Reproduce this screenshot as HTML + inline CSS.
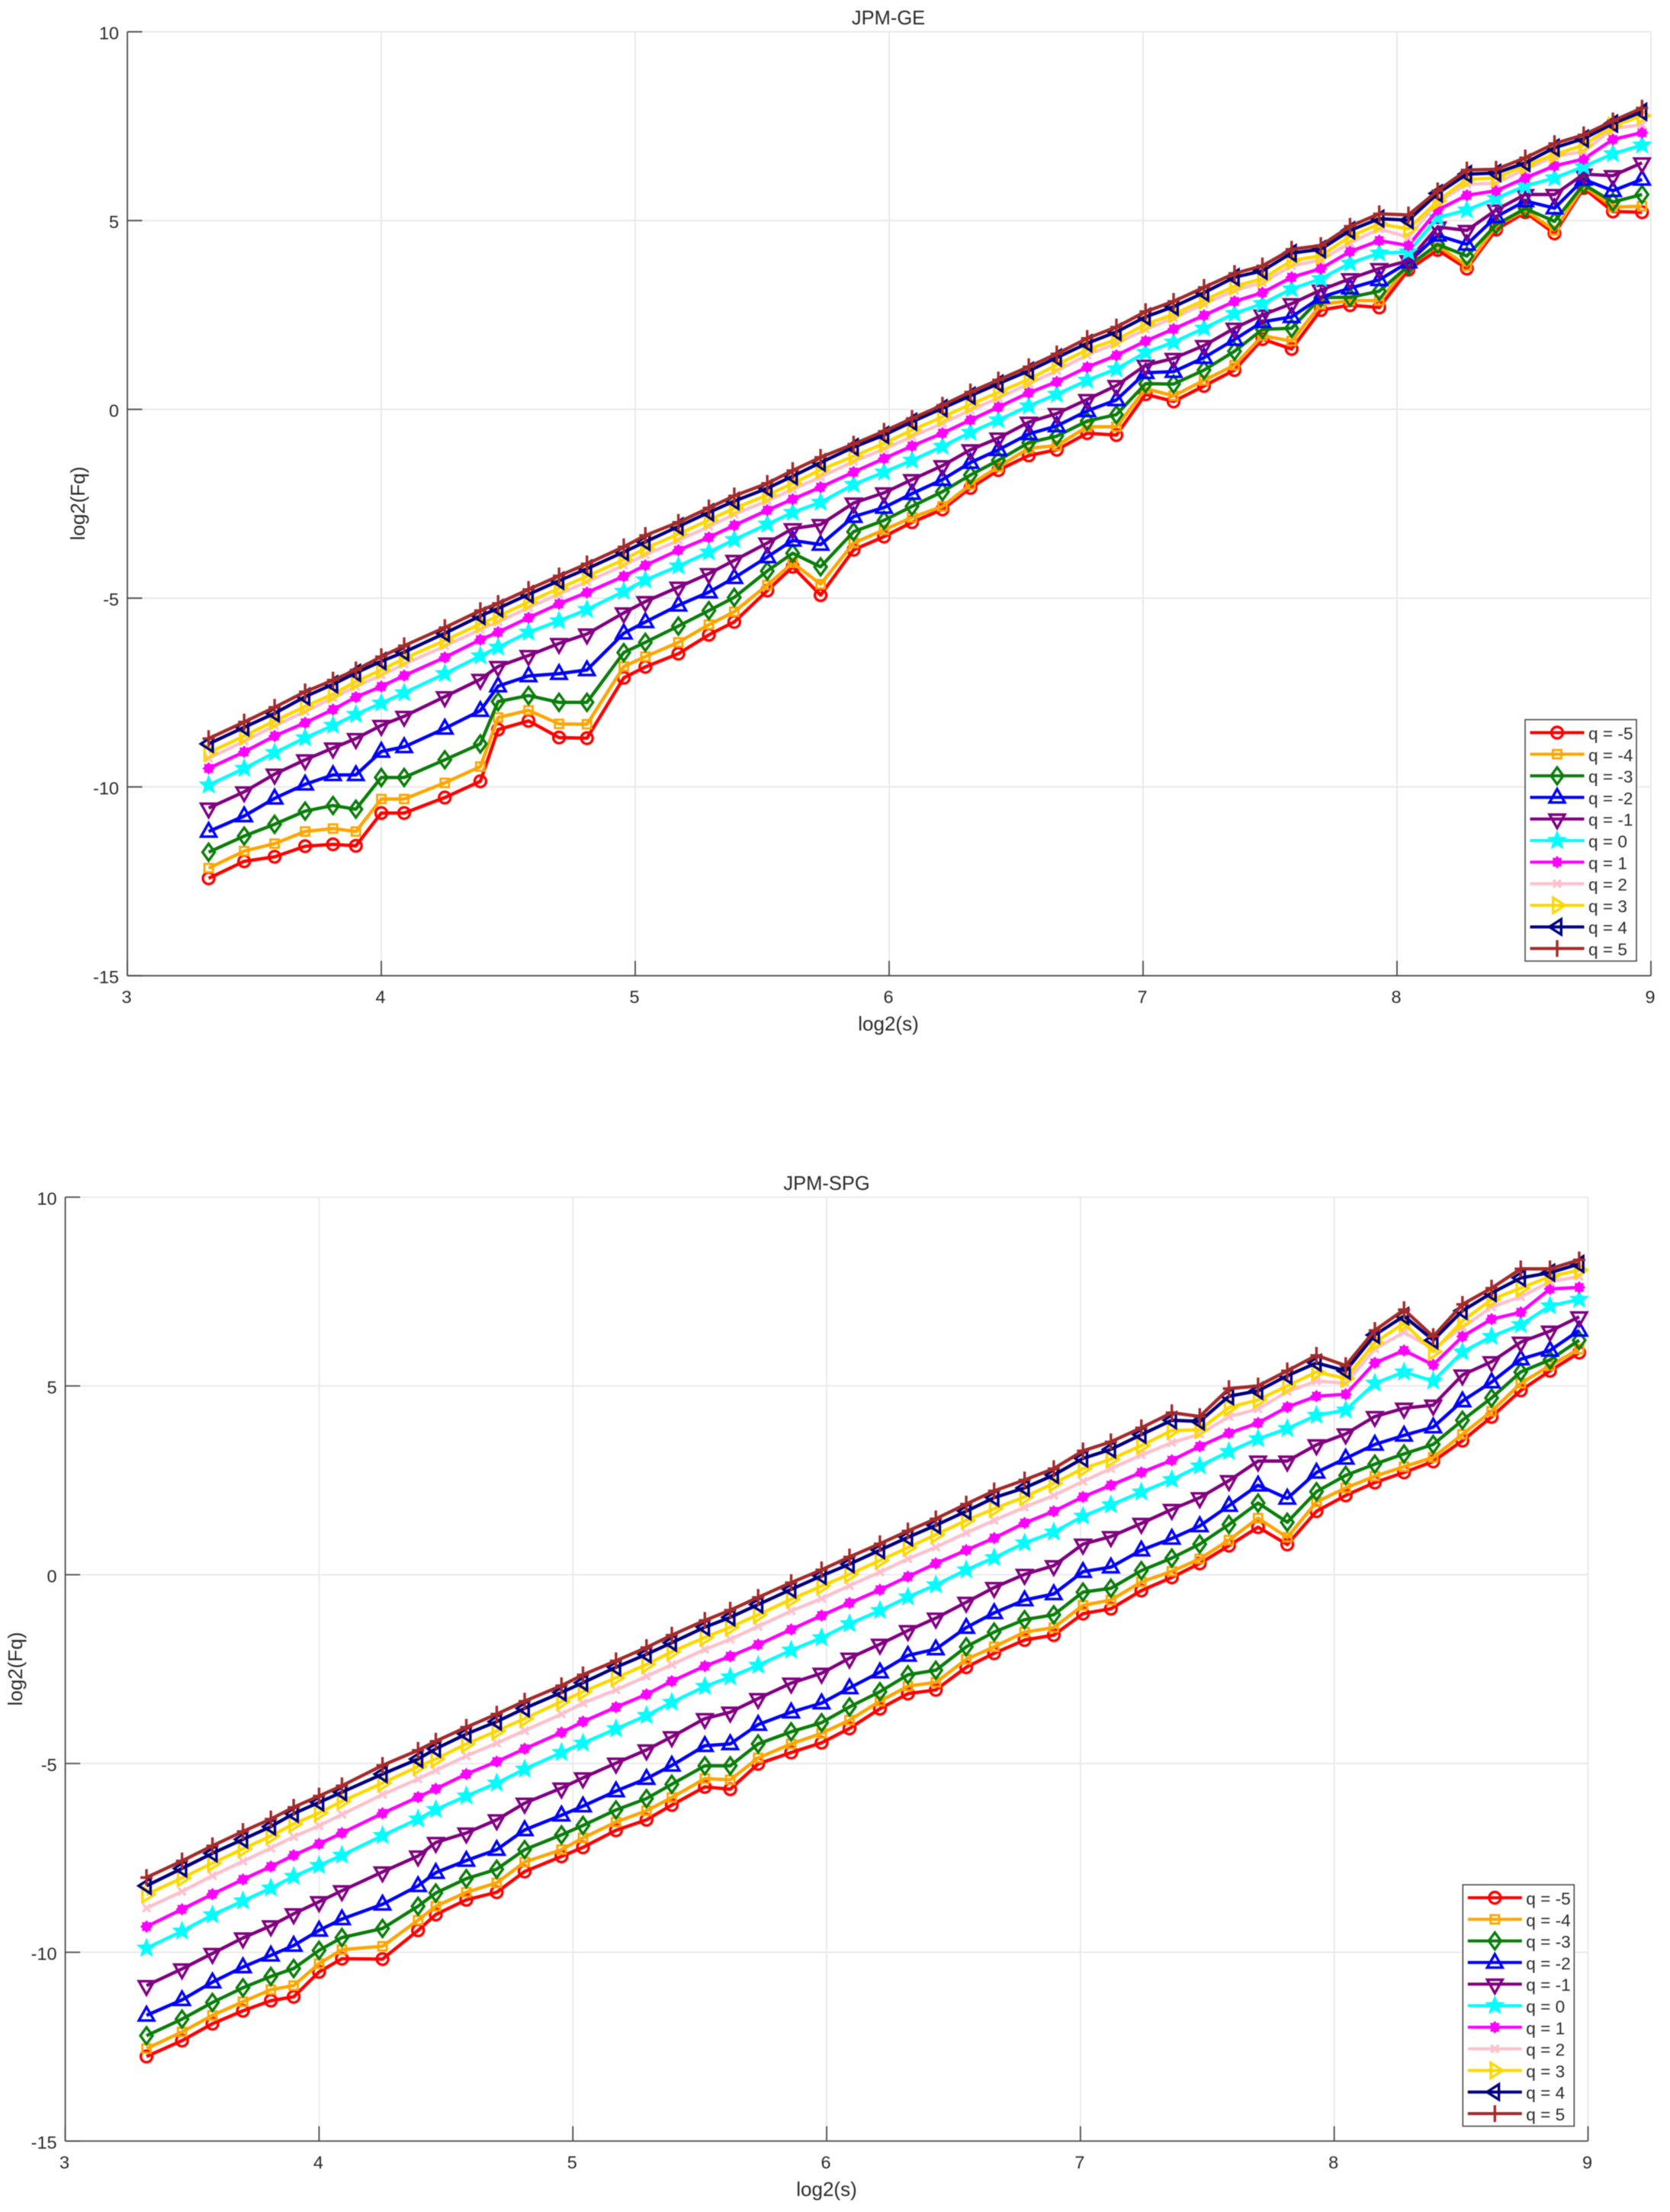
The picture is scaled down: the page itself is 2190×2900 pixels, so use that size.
<!DOCTYPE html>
<html lang="en">
<head>
<meta charset="utf-8">
<title>JPM-GE and JPM-SPG log2(Fq) vs log2(s)</title>
<style>
html,body{margin:0;padding:0;background:#fff;}
#page{position:relative;width:2190px;height:2900px;overflow:hidden;background:#fff;}
svg{display:block;filter:blur(0.5px);}
text{font-family:"Liberation Sans",Arial,sans-serif;fill:#2a2a2a;}
</style>
</head>
<body>
<div id="page">
<svg id="fig" width="2190" height="2900" viewBox="0 0 2190 2900" xmlns="http://www.w3.org/2000/svg">
  <g id="chart-ge"></g>
  <g id="chart-spg"></g>
  <text x="1165" y="32" font-size="25.5" text-anchor="middle">JPM-GE</text>
  <text x="1165" y="1351" font-size="26" text-anchor="middle">log2(s)</text>
  <text transform="translate(111 660) rotate(-90)" font-size="26" text-anchor="middle">log2(Fq)</text>
  <text x="1084" y="1560" font-size="25.5" text-anchor="middle">JPM-SPG</text>
  <text x="1084" y="2879" font-size="26" text-anchor="middle">log2(s)</text>
  <text transform="translate(29 2188) rotate(-90)" font-size="26" text-anchor="middle">log2(Fq)</text>
</svg>
</div>
<script>
// ---------- shared categories and tick labels ----------
const logS = [3.32,3.46,3.58,3.70,3.81,3.90,4.00,4.09,4.25,4.39,4.46,4.58,4.70,4.81,4.955,5.04,5.17,5.29,5.39,5.52,5.62,5.73,5.86,5.98,6.09,6.21,6.32,6.43,6.55,6.66,6.78,6.895,7.01,7.12,7.24,7.36,7.47,7.585,7.70,7.815,7.93,8.045,8.16,8.275,8.39,8.505,8.62,8.735,8.85,8.965];
const xTickLabels = ["3","4","5","6","7","8","9"];
const yTickLabels = ["-15","-10","-5","0","5","10"];
const qLabels = ["q = -5","q = -4","q = -3","q = -2","q = -1","q = 0","q = 1","q = 2","q = 3","q = 4","q = 5"];

// ---------- JPM-GE values ----------
const geQm5 = [-12.42,-11.97,-11.85,-11.57,-11.52,-11.56,-10.69,-10.69,-10.28,-9.85,-8.48,-8.25,-8.69,-8.71,-7.11,-6.82,-6.47,-5.97,-5.63,-4.80,-4.17,-4.92,-3.72,-3.37,-2.99,-2.65,-2.08,-1.61,-1.22,-1.07,-0.63,-0.68,0.40,0.21,0.62,1.04,1.86,1.60,2.63,2.76,2.70,3.70,4.22,3.73,4.76,5.22,4.66,5.86,5.24,5.22];
const geQm4 = [-12.15,-11.70,-11.50,-11.18,-11.10,-11.18,-10.32,-10.32,-9.89,-9.46,-8.16,-7.97,-8.33,-8.34,-6.81,-6.55,-6.17,-5.70,-5.36,-4.65,-4.06,-4.63,-3.54,-3.19,-2.86,-2.57,-1.99,-1.52,-1.03,-0.96,-0.46,-0.46,0.55,0.36,0.77,1.17,1.95,1.81,2.78,2.88,2.88,3.80,4.34,3.80,4.85,5.28,4.74,5.92,5.36,5.38];
const geQm3 = [-11.73,-11.30,-10.99,-10.64,-10.49,-10.59,-9.75,-9.75,-9.28,-8.86,-7.74,-7.58,-7.76,-7.76,-6.44,-6.17,-5.74,-5.33,-4.98,-4.28,-3.81,-4.17,-3.24,-2.94,-2.57,-2.18,-1.74,-1.35,-0.88,-0.71,-0.31,-0.14,0.68,0.67,1.04,1.54,2.12,2.15,2.96,2.97,3.13,3.80,4.37,4.06,4.89,5.32,4.98,5.96,5.49,5.69];
const geQm2 = [-11.18,-10.77,-10.30,-9.93,-9.68,-9.68,-9.06,-8.94,-8.45,-7.98,-7.33,-7.06,-7.00,-6.90,-5.93,-5.63,-5.19,-4.84,-4.46,-3.91,-3.47,-3.58,-2.84,-2.60,-2.23,-1.86,-1.41,-1.07,-0.65,-0.44,-0.04,0.25,0.97,1.00,1.37,1.85,2.32,2.45,2.97,3.21,3.43,3.90,4.61,4.37,5.10,5.52,5.33,6.09,5.79,6.09];
const geQm1 = [-10.56,-10.13,-9.66,-9.28,-8.97,-8.72,-8.37,-8.13,-7.61,-7.15,-6.81,-6.52,-6.20,-5.95,-5.39,-5.09,-4.71,-4.35,-4.00,-3.54,-3.16,-3.05,-2.48,-2.21,-1.86,-1.49,-1.07,-0.76,-0.34,-0.11,0.26,0.63,1.17,1.35,1.69,2.15,2.50,2.80,3.16,3.46,3.73,3.94,4.83,4.74,5.28,5.69,5.69,6.23,6.19,6.53];
const geQ0 = [-9.95,-9.51,-9.09,-8.70,-8.37,-8.08,-7.78,-7.51,-7.00,-6.53,-6.30,-5.90,-5.60,-5.30,-4.82,-4.52,-4.15,-3.78,-3.45,-3.04,-2.73,-2.46,-1.99,-1.66,-1.35,-0.98,-0.61,-0.28,0.09,0.40,0.77,1.07,1.51,1.78,2.15,2.54,2.80,3.19,3.46,3.87,4.14,4.17,5.08,5.28,5.59,5.92,6.13,6.43,6.77,7.00];
const geQ1 = [-9.51,-9.07,-8.65,-8.30,-7.95,-7.62,-7.34,-7.05,-6.57,-6.10,-5.90,-5.52,-5.15,-4.85,-4.42,-4.13,-3.73,-3.39,-3.07,-2.67,-2.38,-2.06,-1.66,-1.30,-0.97,-0.63,-0.28,0.06,0.44,0.73,1.12,1.43,1.81,2.13,2.49,2.86,3.09,3.50,3.73,4.18,4.47,4.34,5.28,5.67,5.79,6.13,6.45,6.63,7.15,7.33];
const geQ2 = [-9.24,-8.79,-8.38,-8.00,-7.64,-7.34,-7.04,-6.75,-6.27,-5.83,-5.63,-5.25,-4.89,-4.57,-4.13,-3.85,-3.47,-3.10,-2.78,-2.42,-2.12,-1.79,-1.38,-1.05,-0.72,-0.37,-0.02,0.30,0.68,1.02,1.44,1.75,2.12,2.42,2.79,3.15,3.36,3.80,3.96,4.41,4.78,4.56,5.49,5.96,5.99,6.36,6.70,6.83,7.44,7.54];
const geQ3 = [-9.09,-8.65,-8.25,-7.87,-7.54,-7.21,-6.90,-6.60,-6.12,-5.68,-5.48,-5.10,-4.74,-4.42,-3.98,-3.68,-3.30,-2.93,-2.62,-2.27,-1.96,-1.60,-1.24,-0.90,-0.55,-0.20,0.13,0.45,0.80,1.18,1.58,1.85,2.25,2.52,2.89,3.26,3.46,3.94,4.07,4.58,4.91,4.78,5.52,6.09,6.13,6.46,6.75,7.00,7.51,7.78];
const geQ4 = [-8.86,-8.42,-8.05,-7.61,-7.28,-6.98,-6.67,-6.43,-5.93,-5.47,-5.27,-4.90,-4.54,-4.22,-3.78,-3.51,-3.10,-2.73,-2.43,-2.09,-1.77,-1.41,-1.00,-0.68,-0.33,0.03,0.36,0.68,1.02,1.37,1.75,2.05,2.45,2.72,3.09,3.50,3.67,4.14,4.24,4.74,5.05,5.01,5.72,6.23,6.26,6.53,6.93,7.17,7.57,7.88];
const geQ5 = [-8.72,-8.28,-7.89,-7.48,-7.17,-6.90,-6.55,-6.26,-5.78,-5.33,-5.14,-4.77,-4.41,-4.09,-3.64,-3.34,-2.99,-2.61,-2.29,-1.96,-1.62,-1.27,-0.92,-0.58,-0.24,0.11,0.46,0.78,1.13,1.47,1.88,2.18,2.59,2.86,3.23,3.60,3.80,4.24,4.34,4.85,5.18,5.15,5.79,6.34,6.36,6.66,7.04,7.27,7.64,7.98];

// ---------- JPM-SPG values ----------
const spgQm5 = [-12.76,-12.34,-11.89,-11.55,-11.28,-11.18,-10.52,-10.17,-10.18,-9.42,-9.00,-8.61,-8.41,-7.86,-7.46,-7.22,-6.77,-6.49,-6.10,-5.62,-5.68,-5.01,-4.71,-4.45,-4.07,-3.55,-3.15,-3.05,-2.45,-2.08,-1.73,-1.60,-1.03,-0.90,-0.42,-0.07,0.30,0.77,1.26,0.80,1.68,2.10,2.44,2.71,3.00,3.55,4.18,4.88,5.40,5.88];
const spgQm4 = [-12.55,-12.11,-11.67,-11.31,-10.99,-10.88,-10.30,-9.93,-9.84,-9.15,-8.78,-8.41,-8.16,-7.61,-7.28,-6.97,-6.55,-6.25,-5.90,-5.40,-5.43,-4.85,-4.48,-4.20,-3.85,-3.35,-2.95,-2.85,-2.24,-1.91,-1.52,-1.40,-0.81,-0.67,-0.19,0.09,0.42,0.92,1.50,0.99,1.93,2.30,2.61,2.86,3.11,3.72,4.33,5.07,5.54,5.98];
const spgQm3 = [-12.21,-11.77,-11.33,-10.94,-10.64,-10.43,-9.95,-9.61,-9.37,-8.78,-8.43,-8.05,-7.80,-7.28,-6.89,-6.64,-6.23,-5.93,-5.55,-5.06,-5.06,-4.48,-4.16,-3.92,-3.50,-3.10,-2.65,-2.53,-1.91,-1.52,-1.19,-1.06,-0.46,-0.36,0.11,0.44,0.81,1.33,1.90,1.39,2.20,2.63,2.93,3.20,3.45,4.09,4.68,5.37,5.69,6.21];
const spgQm2 = [-11.67,-11.26,-10.79,-10.39,-10.08,-9.82,-9.42,-9.12,-8.73,-8.24,-7.89,-7.57,-7.28,-6.76,-6.37,-6.13,-5.73,-5.40,-5.05,-4.53,-4.48,-3.97,-3.64,-3.40,-3.00,-2.58,-2.14,-1.97,-1.40,-1.01,-0.67,-0.51,0.08,0.20,0.65,0.96,1.29,1.83,2.37,2.02,2.71,3.08,3.45,3.69,3.91,4.60,5.10,5.71,5.94,6.47];
const spgQm1 = [-10.88,-10.44,-10.03,-9.62,-9.30,-8.98,-8.66,-8.37,-7.87,-7.45,-7.09,-6.84,-6.49,-6.05,-5.65,-5.38,-4.99,-4.64,-4.29,-3.81,-3.64,-3.28,-2.87,-2.61,-2.21,-1.84,-1.48,-1.15,-0.73,-0.34,0.01,0.24,0.81,1.01,1.36,1.73,2.04,2.49,3.01,3.01,3.44,3.73,4.19,4.41,4.49,5.29,5.64,6.16,6.45,6.83];
const spgQ0 = [-9.89,-9.44,-9.01,-8.64,-8.30,-7.99,-7.70,-7.43,-6.91,-6.47,-6.22,-5.86,-5.52,-5.15,-4.71,-4.46,-4.08,-3.73,-3.38,-2.96,-2.71,-2.40,-2.00,-1.67,-1.30,-0.95,-0.59,-0.27,0.13,0.45,0.84,1.13,1.55,1.85,2.19,2.52,2.88,3.26,3.60,3.87,4.22,4.36,5.07,5.37,5.13,5.90,6.31,6.62,7.12,7.29];
const spgQ1 = [-9.32,-8.86,-8.46,-8.07,-7.73,-7.43,-7.13,-6.84,-6.32,-5.89,-5.67,-5.28,-4.95,-4.61,-4.18,-3.89,-3.51,-3.17,-2.82,-2.42,-2.16,-1.85,-1.45,-1.08,-0.75,-0.40,-0.05,0.30,0.65,0.97,1.37,1.68,2.06,2.37,2.71,3.03,3.40,3.75,4.02,4.44,4.73,4.78,5.61,5.94,5.56,6.31,6.77,6.95,7.57,7.61];
const spgQ2 = [-8.83,-8.39,-7.97,-7.59,-7.24,-6.94,-6.65,-6.35,-5.82,-5.41,-5.18,-4.80,-4.46,-4.13,-3.69,-3.40,-3.05,-2.69,-2.38,-1.98,-1.71,-1.37,-0.96,-0.63,-0.29,0.07,0.42,0.73,1.11,1.44,1.79,2.10,2.47,2.81,3.17,3.50,3.72,4.19,4.39,4.85,5.13,5.07,5.98,6.42,5.98,6.55,7.09,7.36,7.76,7.90];
const spgQ3 = [-8.47,-8.03,-7.64,-7.26,-6.92,-6.60,-6.31,-6.00,-5.52,-5.08,-4.88,-4.48,-4.14,-3.81,-3.36,-3.10,-2.73,-2.38,-2.04,-1.66,-1.39,-1.06,-0.65,-0.30,0.01,0.38,0.72,1.06,1.44,1.75,2.06,2.42,2.81,3.06,3.42,3.82,3.84,4.43,4.63,5.00,5.37,5.20,6.15,6.66,5.91,6.72,7.29,7.59,7.90,8.07];
const spgQ4 = [-8.24,-7.78,-7.38,-7.01,-6.67,-6.33,-6.03,-5.76,-5.28,-4.88,-4.61,-4.22,-3.89,-3.54,-3.12,-2.86,-2.45,-2.11,-1.80,-1.39,-1.13,-0.79,-0.39,-0.03,0.28,0.65,0.99,1.31,1.68,2.04,2.30,2.64,3.08,3.32,3.71,4.09,4.06,4.73,4.87,5.27,5.61,5.40,6.35,6.85,6.21,6.99,7.46,7.86,8.00,8.23];
const spgQ5 = [-8.02,-7.58,-7.18,-6.80,-6.47,-6.16,-5.86,-5.59,-5.05,-4.65,-4.41,-4.04,-3.69,-3.35,-2.94,-2.65,-2.28,-1.93,-1.60,-1.21,-0.94,-0.60,-0.21,0.13,0.47,0.82,1.16,1.48,1.87,2.22,2.51,2.81,3.28,3.52,3.89,4.29,4.19,4.93,5.00,5.40,5.81,5.54,6.47,7.02,6.31,7.16,7.59,8.10,8.10,8.34];

const geSeries = [geQm5,geQm4,geQm3,geQm2,geQm1,geQ0,geQ1,geQ2,geQ3,geQ4,geQ5];
const spgSeries = [spgQm5,spgQm4,spgQm3,spgQm2,spgQm1,spgQ0,spgQ1,spgQ2,spgQ3,spgQ4,spgQ5];

// ---------- styles ----------
const seriesColors = ["#ff0000","#ffa500","#0a7d0a","#0000ff","#800080","#00ffff","#ff00ff","#ffc0cb","#ffd700","#000080","#a52a2a"];
const seriesMarkers = ["circle","square","diamond","up","down","star","burst","cross","right","left","plus"];

const NS = "http://www.w3.org/2000/svg";
function make(tag, attrs, parent){
  const e = document.createElementNS(NS, tag);
  for (const k in attrs) e.setAttribute(k, attrs[k]);
  parent.appendChild(e);
  return e;
}
function polyPath(pts){
  return "M" + pts.map(p => p[0] + " " + p[1]).join("L") + "Z";
}
function spikes(n, outer, inner, rot){
  const pts = [];
  for (let i = 0; i < n * 2; i++){
    const r = i % 2 ? inner : outer;
    const a = rot + i * Math.PI / n;
    pts.push([r * Math.sin(a), -r * Math.cos(a)]);
  }
  return pts;
}
function drawMarker(parent, kind, color, cx, cy){
  const g = make("g", {transform:"translate(" + cx + " " + cy + ")", fill:"none", stroke:color, "stroke-width":"3.4"}, parent);
  if (kind === "circle") make("circle", {cx:0, cy:0, r:7.5}, g);
  if (kind === "square") make("rect", {x:-5.5, y:-5.5, width:11, height:11, "stroke-width":2.8}, g);
  if (kind === "diamond") make("path", {d:polyPath([[0,-11],[8,0],[0,11],[-8,0]])}, g);
  if (kind === "up") make("path", {d:polyPath([[0,-11],[10,6.7],[-10,6.7]])}, g);
  if (kind === "down") make("path", {d:polyPath([[0,12],[10,-5.7],[-10,-5.7]])}, g);
  if (kind === "right") make("path", {d:polyPath([[-5.3,-10],[10.3,0],[-5.3,10]])}, g);
  if (kind === "left") make("path", {d:polyPath([[5.3,-10],[-10.3,0],[5.3,10]])}, g);
  if (kind === "star") make("path", {d:polyPath(spikes(5, 12, 5.2, 0)), fill:color, "stroke-width":1.5}, g);
  if (kind === "burst") make("path", {d:polyPath(spikes(8, 7.6, 5.4, 0)), fill:color, "stroke-width":1}, g);
  if (kind === "cross") make("path", {d:"M-5 -5L5 5M-5 5L5 -5"}, g);
  if (kind === "plus") make("path", {d:"M0 -11V11M-8 0H8"}, g);
  return g;
}

function drawChart(rootId, prefix, series, box, legend){
  const root = document.getElementById(rootId);
  const sx = v => box.left + (v - 3) * (box.right - box.left) / 6;
  const sy = v => box.bottom - (v + 15) * (box.bottom - box.top) / 25;

  // gridlines
  const grid = make("g", {}, root);
  
  
  xTickLabels.forEach(lab => {
    const x = sx(Number(lab));
    if (Number(lab) === 3) return;
    const l = make("line", {x1:x, x2:x, y1:box.top, y2:box.bottom, stroke:"#e4e4e4", "stroke-width":1.5}, grid);
    
    
  });
  yTickLabels.forEach(lab => {
    const y = sy(Number(lab));
    if (Number(lab) === -15) return;
    const l = make("line", {x1:box.left, x2:box.right, y1:y, y2:y, stroke:"#e8e8e8", "stroke-width":1.8}, grid);
    
    
  });

  // axes
  const axes = make("g", {stroke:"#4a4a4a", "stroke-width":1.8}, root);
  
  
  const yAxis = make("line", {x1:box.left, x2:box.left, y1:box.top, y2:box.bottom}, axes);
  
  
  const xAxis = make("line", {x1:box.left, x2:box.right, y1:box.bottom, y2:box.bottom}, axes);
  
  

  xTickLabels.forEach(lab => {
    const x = sx(Number(lab));
    const t = make("line", {x1:x, x2:x, y1:box.bottom, y2:box.bottom - 19.5}, axes);
    
    
    const tx = make("text", {x:x - 1, y:box.bottom + 36, "font-size":23.5, "text-anchor":"middle"}, root);
    tx.textContent = lab;
    
    
  });
  yTickLabels.forEach(lab => {
    const y = sy(Number(lab));
    const t = make("line", {x1:box.left, x2:box.left + 19.5, y1:y, y2:y}, axes);
    
    
    const tx = make("text", {x:box.left - 11, y:y + 10, "font-size":23.5, "text-anchor":"end"}, root);
    tx.textContent = lab;
    
    
  });

  // series
  series.forEach((vals, i) => {
    const g = make("g", {}, root);
    
    
    const pts = vals.map((v, k) => sx(logS[k]).toFixed(1) + "," + sy(v).toFixed(1)).join(" ");
    const line = make("polyline", {points:pts, fill:"none", stroke:seriesColors[i], "stroke-width":4.4, "stroke-linejoin":"round"}, g);
    
    
    vals.forEach((v, k) => {
      const m = drawMarker(g, seriesMarkers[i], seriesColors[i], sx(logS[k]).toFixed(1), sy(v).toFixed(1));
      
      
    });
  });

  // legend
  const lg = make("g", {}, root);
  
  
  const frame = make("rect", {x:legend.x, y:legend.y, width:146, height:316.5, fill:"#fff", stroke:"#4a4a4a", "stroke-width":1.6}, lg);
  
  
  qLabels.forEach((lab, i) => {
    const y = legend.y + 17 + i * 28.3;
    const entry = make("g", {}, lg);
    
    
    make("line", {x1:legend.x + 6.5, x2:legend.x + 77.5, y1:y, y2:y, stroke:seriesColors[i], "stroke-width":4}, entry);
    drawMarker(entry, seriesMarkers[i], seriesColors[i], legend.x + 42, y);
    const tx = make("text", {x:legend.x + 83, y:y + 9, "font-size":22.6}, entry);
    tx.textContent = lab;
    
    
  });
}

drawChart("chart-ge", "jpm-ge", geSeries, {left:167, right:2165, top:41.7, bottom:1279.2}, {x:2000, y:943.5});
drawChart("chart-spg", "jpm-spg", spgSeries, {left:85.6, right:2082.5, top:1569.5, bottom:2807}, {x:1918.3, y:2471});
</script>
</body>
</html>
